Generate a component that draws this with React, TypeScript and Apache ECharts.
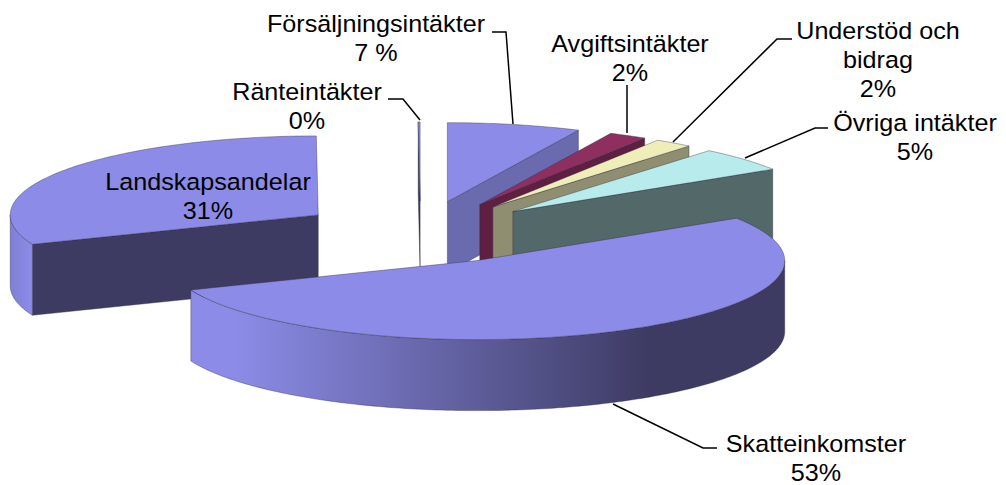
import React, { useEffect, useRef } from "react";
import * as echarts from "echarts";

const categories = ["Försäljningsintäkter", "Avgiftsintäkter", "Understöd och\nbidrag", "Övriga intäkter", "Skatteinkomster", "Landskapsandelar", "Ränteintäkter"];
const values = [7, 2, 2, 5, 53, 31, 0.1];
const percentLabels = ["7 %", "2%", "2%", "5%", "53%", "31%", "0%"];
const topColors = ["#8c8ce8", "#8f2f5f", "#f0eeb8", "#b8ecec", "#8c8ce8", "#8c8ce8", "#8c8ce8"];
const wallColors = ["#6a6aae", "#5e1f40", "#8f8e70", "#536868", "#3d3b62", "#3d3b62", "#3d3b62"];
const labelCentres = [[376, 38], [630, 58], [878, 60], [915, 137], [816, 458], [208, 196], [307, 106.5]];
const leaders = [
  [[492, 32], [506, 32], [513, 124]],
  [[627, 85], [627, 133]],
  [[792, 39], [777, 39], [673, 142]],
  [[828, 128], [815, 128], [745, 158]],
  [[717, 448], [703, 448], [613, 404]],
  [[388, 99], [403, 99], [420, 120]],
];
const drawOrder = [6, 5, 0, 1, 2, 3, 4];

const CX = 420.5, CY = 232.5, RX = 308, RY = 79, H = 71, EXPLODE = 0.4;
const FONT = "Liberation Sans";
const total = values.reduce((a, b) => a + b, 0);
const rad = (d: number) => (d * Math.PI) / 180;

function sliceAngles(i: number) {
  let sum = 0;
  for (let k = 0; k < i; k++) sum += values[k];
  return [(sum / total) * 360, ((sum + values[i]) / total) * 360];
}

function arc(cx: number, cy: number, a0: number, a1: number, dy = 0) {
  const pts: number[][] = [];
  const n = Math.max(2, Math.ceil(Math.abs(a1 - a0)));
  for (let k = 0; k <= n; k++) {
    const a = rad(a0 + ((a1 - a0) * k) / n);
    pts.push([cx + RX * Math.sin(a), cy - RY * Math.cos(a) + dy]);
  }
  return pts;
}

const EDGE = { stroke: "rgba(45,45,70,0.65)", lineWidth: 0.6 };

function renderItem(_: any, api: any) {
  const i = api.value(0);
  const [a0, a1] = sliceAngles(i);
  const mid = rad((a0 + a1) / 2);
  const cx = CX + EXPLODE * RX * Math.sin(mid);
  const cy = CY - EXPLODE * RY * Math.cos(mid);
  const children: any[] = [];
  const poly = (points: number[][], fill: any) =>
    children.push({ type: "polygon", shape: { points }, style: { fill, ...EDGE } });

  const face = (a: number) => {
    const o = arc(cx, cy, a, a)[0];
    poly([[cx, cy], o, [o[0], o[1] + H], [cx, cy + H]], wallColors[i]);
  };
  if (Math.sin(rad(a0)) < 0) face(a0);
  if (Math.sin(rad(a1)) > 0) face(a1);

  const w0 = Math.max(a0, 90), w1 = Math.min(a1, 270);
  if (w1 > w0) {
    const top = arc(cx, cy, w0, w1);
    const bottom = arc(cx, cy, w1, w0, H);
    const fill =
      i === 4
        ? new echarts.graphic.LinearGradient(650, 0, 233, 0, [
            { offset: 0, color: "#3d3b62" },
            { offset: 1, color: "#8c8ce8" },
          ], true)
        : new echarts.graphic.LinearGradient(10, 0, 31, 0, [
            { offset: 0, color: "#7f7fd6" },
            { offset: 1, color: "#8c8ce8" },
          ], true);
    poly(top.concat(bottom), fill);
  }
  poly([[cx, cy], ...arc(cx, cy, a0, a1)], topColors[i]);
  return { type: "group", children };
}

export default function App() {
  const ref = useRef<HTMLDivElement>(null);
  useEffect(() => {
    const chart = echarts.init(ref.current!, undefined, { renderer: "svg" });
    chart.setOption({
      animation: false,
      backgroundColor: "#ffffff",
      series: [
        {
          type: "custom",
          coordinateSystem: "none",
          silent: true,
          clip: false,
          renderItem,
          data: drawOrder.map((i) => ({ name: categories[i], value: [i, values[i]] })),
        },
      ],
      graphic: [
        ...leaders.map((points) => ({
          type: "polyline",
          z: 20,
          silent: true,
          shape: { points },
          style: { stroke: "#000", lineWidth: 1.5, fill: "none" },
        })),
        ...categories.map((name, i) => ({
          type: "text",
          z: 30,
          silent: true,
          x: labelCentres[i][0],
          y: labelCentres[i][1],
          scaleX: 1.08,
          style: {
            text: name + "\n" + percentLabels[i],
            fontFamily: FONT,
            fontSize: 23.3,
            lineHeight: 29,
            fill: "#000",
            align: "center",
            verticalAlign: "middle",
          },
        })),
      ],
    });
    return () => chart.dispose();
  }, []);
  return <div ref={ref} style={{ position: "absolute", left: 0, top: 0, width: 1006, height: 485 }} />;
}
